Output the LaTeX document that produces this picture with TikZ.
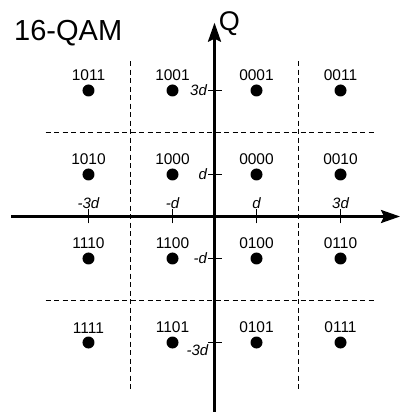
\documentclass[tikz,border=0pt]{standalone}
\usepackage{fontspec}
\setmainfont{Liberation Sans}
\usetikzlibrary{arrows.meta,positioning}

\tikzset{
  dot/.style={circle,fill,inner sep=0pt,minimum size=12pt},
  bits/.style={inner sep=0pt,font=\fontsize{15.5}{18}\selectfont},
  gridline/.style={line width=1.2pt,dash pattern=on 5pt off 3.5pt},
  axis/.style={line width=2.5pt,-{Stealth[length=19pt,width=13pt,inset=3pt]}},
  tick/.style={line width=1.2pt},
  ticklbl/.style={inner sep=0pt,font=\fontsize{15}{18}\selectfont\itshape},
}

\begin{document}
\begin{tikzpicture}[x=42pt,y=42pt]
  \useasboundingbox (-214.5pt,-195.5pt) rectangle (186.5pt,216.5pt);
  % decision boundaries
  \coordinate (v1n) at (-2,3.702);
  \coordinate (v1s) at (-2,-4.19);
  \coordinate (v2n) at (2,3.702);
  \coordinate (v2s) at (2,-4.19);
  \coordinate (h1w) at (-4.019,2);
  \coordinate (h1e) at (3.869,2);
  \coordinate (h2w) at (-4.019,-2);
  \coordinate (h2e) at (3.869,-2);
  \draw[gridline] (v1n) -- (v1s);
  \draw[gridline] (v2n) -- (v2s);
  \draw[gridline] (h1w) -- (h1e);
  \draw[gridline] (h2w) -- (h2e);
  % axes
  \coordinate (Iw) at (-4.845,0);
  \coordinate (Ie) at (4.417,0);
  \coordinate (Qs) at (0,-4.8);
  \coordinate (Qn) at (0,4.614);
  \draw[axis] (Iw) -- (Ie);
  \draw[axis] (Qs) -- (Qn);
  \node[anchor=base west,inner sep=0pt,font=\fontsize{27}{30}\selectfont] (qlbl) at (0.1,4.417) {Q};
  \node[anchor=base west,inner sep=0pt,font=\fontsize{29}{32}\selectfont] (title) at (-4.774,4.179) {16-QAM};
  % ticks on I
  \coordinate (xm3) at (-3,0);
  \coordinate (xm1) at (-1,0);
  \coordinate (x1) at (1,0);
  \coordinate (x3) at (3,0);
  \draw[tick] ([yshift=-7pt]xm3) -- ([yshift=7pt]xm3) node[ticklbl,above] (lxm3) {-3d};
  \draw[tick] ([yshift=-7pt]xm1) -- ([yshift=7pt]xm1) node[ticklbl,above] (lxm1) {-d};
  \draw[tick] ([yshift=-7pt]x1) -- ([yshift=7pt]x1) node[ticklbl,above] (lx1) {d};
  \draw[tick] ([yshift=-7pt]x3) -- ([yshift=7pt]x3) node[ticklbl,above] (lx3) {3d};
  % ticks on Q
  \coordinate (y3) at (0,3);
  \coordinate (y1) at (0,1);
  \coordinate (ym1) at (0,-1);
  \coordinate (ym3) at (0,-3);
  \draw[tick] ([xshift=7pt]y3) -- ([xshift=-7pt]y3) node[ticklbl,left] (ly3) {3d};
  \draw[tick] ([xshift=7pt]y1) -- ([xshift=-7pt]y1) node[ticklbl,left] (ly1) {d};
  \draw[tick] ([xshift=7pt]ym1) -- ([xshift=-7pt]ym1) node[ticklbl,left] (lym1) {-d};
  \draw[tick] ([xshift=7pt]ym3) -- ([xshift=-7pt]ym3);
  \node[ticklbl,anchor=north east] (lym3) at ([xshift=-6pt,yshift=-2pt]ym3) {-3d};
  % constellation points
  \node[dot] (p1011) at (-3,3) {};
  \node[dot] (p1001) at (-1,3) {};
  \node[dot] (p0001) at (1,3) {};
  \node[dot] (p0011) at (3,3) {};
  \node[dot] (p1010) at (-3,1) {};
  \node[dot] (p1000) at (-1,1) {};
  \node[dot] (p0000) at (1,1) {};
  \node[dot] (p0010) at (3,1) {};
  \node[dot] (p1110) at (-3,-1) {};
  \node[dot] (p1100) at (-1,-1) {};
  \node[dot] (p0100) at (1,-1) {};
  \node[dot] (p0110) at (3,-1) {};
  \node[dot] (p1111) at (-3,-3) {};
  \node[dot] (p1101) at (-1,-3) {};
  \node[dot] (p0101) at (1,-3) {};
  \node[dot] (p0111) at (3,-3) {};
  \node[bits,above=3pt of p1011] (b1011) {1011};
  \node[bits,above=3pt of p1001] (b1001) {1001};
  \node[bits,above=3pt of p0001] (b0001) {0001};
  \node[bits,above=3pt of p0011] (b0011) {0011};
  \node[bits,above=3pt of p1010] (b1010) {1010};
  \node[bits,above=3pt of p1000] (b1000) {1000};
  \node[bits,above=3pt of p0000] (b0000) {0000};
  \node[bits,above=3pt of p0010] (b0010) {0010};
  \node[bits,above=3pt of p1110] (b1110) {1110};
  \node[bits,above=3pt of p1100] (b1100) {1100};
  \node[bits,above=3pt of p0100] (b0100) {0100};
  \node[bits,above=3pt of p0110] (b0110) {0110};
  \node[bits,above=3pt of p1111] (b1111) {1111};
  \node[bits,above=3pt of p1101] (b1101) {1101};
  \node[bits,above=3pt of p0101] (b0101) {0101};
  \node[bits,above=3pt of p0111] (b0111) {0111};
\end{tikzpicture}
\end{document}
